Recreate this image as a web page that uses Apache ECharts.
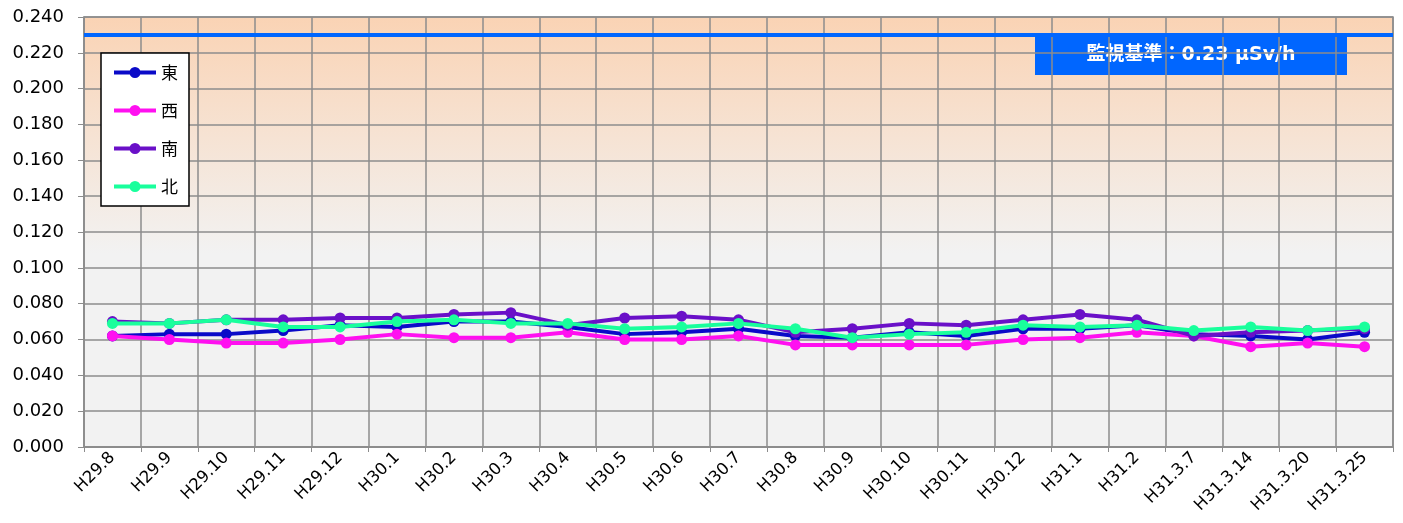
<!DOCTYPE html>
<html><head><meta charset="utf-8">
<script src="https://cdn.jsdelivr.net/npm/echarts@6/dist/echarts.min.js"></script>
<style>html,body{margin:0;padding:0;background:#fff}#c{width:1403px;height:523px}</style>
</head><body><div id="c"></div>
<script>
const categories = ['H29.8','H29.9','H29.10','H29.11','H29.12','H30.1','H30.2','H30.3','H30.4','H30.5','H30.6','H30.7','H30.8','H30.9','H30.10','H30.11','H30.12','H31.1','H31.2','H31.3.7','H31.3.14','H31.3.20','H31.3.25'];
const east  = [0.062,0.063,0.063,0.065,0.068,0.067,0.070,0.070,0.067,0.063,0.064,0.066,0.062,0.061,0.064,0.062,0.066,0.066,0.068,0.063,0.062,0.060,0.064];
const west  = [0.062,0.060,0.058,0.058,0.060,0.063,0.061,0.061,0.064,0.060,0.060,0.062,0.057,0.057,0.057,0.057,0.060,0.061,0.064,0.062,0.056,0.058,0.056];
const south = [0.070,0.069,0.071,0.071,0.072,0.072,0.074,0.075,0.068,0.072,0.073,0.071,0.064,0.066,0.069,0.068,0.071,0.074,0.071,0.062,0.064,0.065,0.066];
const north = [0.069,0.069,0.071,0.067,0.067,0.070,0.071,0.069,0.069,0.066,0.067,0.069,0.066,0.061,0.063,0.064,0.068,0.067,0.068,0.065,0.067,0.065,0.067];
const seriesNames = ['東','西','南','北'];
const limitValue = 0.23;
const limitLabel = '監視基準：0.23 μSv/h';
const yTicks = {min:0, max:0.24, interval:0.02};

const colors = ['#0a0ac8','#ff10f0','#6a10c8','#19ff9c'];
const font = '"DejaVu Sans", "Noto Sans CJK JP", sans-serif';
const legendIcon = 'path://M0,5.5h42v4h-42z M26.5,7.5a5.5,5.5 0 1,1 -11,0a5.5,5.5 0 1,1 11,0z';
const chart = echarts.init(document.getElementById('c'), null, {renderer:'canvas'});
function mk(name, data, i){
  return {name, type:'line', data, color:colors[i], symbol:'circle', symbolSize:11,
    lineStyle:{width:4, color:colors[i]}, itemStyle:{color:colors[i]}, z:3+i};
}
const s = [mk('東',east,0), mk('西',west,1), mk('南',south,2), mk('北',north,3)];
s[0].markLine = {silent:true, symbol:'none', label:{show:false},
  lineStyle:{color:'#0066ff', width:4, type:'solid'}, data:[{yAxis:limitValue}]};
chart.setOption({
  animation:false,
  textStyle:{fontFamily:font},
  grid:{left:84, right:10, top:17, bottom:76, show:true, borderColor:'#8c8c8c', borderWidth:1.5,
    backgroundColor:{type:'linear',x:0,y:0,x2:0,y2:1,colorStops:[{offset:0,color:'#fad3b4'},{offset:0.55,color:'#f2f2f2'},{offset:1,color:'#f2f2f2'}]}},
  legend:{orient:'vertical', left:101, top:53, data:seriesNames.map(n=>({name:n, icon:legendIcon})), backgroundColor:'#fff',
    borderColor:'#000', borderWidth:1.5, padding:[11,11,11,13], itemGap:21, itemWidth:42, itemHeight:14,
    textStyle:{fontSize:17, color:'#000', fontFamily:'"Noto Sans CJK JP", sans-serif'}},
  xAxis:{type:'category', data:categories, boundaryGap:true,
    axisLine:{lineStyle:{color:'#8c8c8c', width:1.5}},
    axisTick:{show:true, length:5, lineStyle:{color:'#8c8c8c'}},
    splitLine:{show:true, lineStyle:{color:'#8c8c8c', width:1.5}},
    axisLabel:{rotate:45, fontSize:16.5, color:'#000', margin:8, interval:0}},
  yAxis:{type:'value', min:yTicks.min, max:yTicks.max, interval:yTicks.interval,
    axisLine:{show:true, lineStyle:{color:'#8c8c8c', width:1.5}},
    axisTick:{show:true, length:6, lineStyle:{color:'#8c8c8c'}},
    splitLine:{show:true, lineStyle:{color:'#8c8c8c', width:1.5}},
    axisLabel:{fontSize:18, color:'#000', margin:20, formatter:v=>v.toFixed(3)}},
  series:s,
  graphic:[{type:'group', left:1035, top:33, z:100, children:[
    {type:'rect', shape:{x:0,y:0,width:312,height:42}, style:{fill:'#0066ff'}},
    {type:'text', x:156, y:22, style:{text:limitLabel, fill:'#fff', font:'bold 19px "DejaVu Sans", "Noto Sans CJK JP", sans-serif', align:'center', verticalAlign:'middle'}}
  ]}]
});
</script></body></html>
